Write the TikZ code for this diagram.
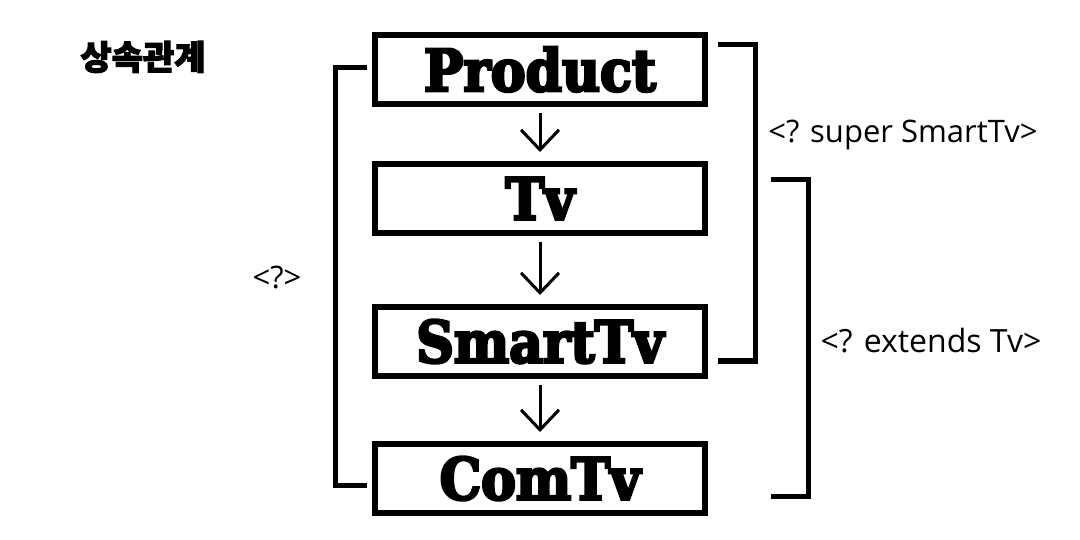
\documentclass[tikz,border=0pt]{standalone}
\usepackage{fontspec}
\usetikzlibrary{arrows.meta, positioning}
\setmainfont{Open Sans}
\newfontfamily\slabfont{DejaVu Serif Condensed}[FakeBold=4.5]
\newfontfamily\kofont{Noto Sans CJK KR}[FakeBold=3]

\begin{document}
\begin{tikzpicture}[x=1pt, y=-1pt, node distance=54pt,
		cls/.style={draw, line width=6pt, minimum width=330pt, minimum height=69pt,
		            inner sep=0pt, font=\slabfont\bfseries\fontsize{58}{58}\selectfont},
		arr/.style={-{Straight Barb[length=20pt, width=38pt]}, line width=3pt,
		            shorten <=6pt, shorten >=9pt},
		brk/.style={line width=5pt},
		lbl/.style={font=\fontsize{31}{31}\selectfont}]
		\useasboundingbox (0,0) rectangle (1080,540);
		\node[font=\kofont\bfseries\fontsize{34}{34}\selectfont] (title) at (143,57) {상속관계};
		\node[cls] (prod) at (540,69.5) {Product};
		\node[cls, below=54pt of prod] (tv) {Tv};
		\node[cls, below=68pt of tv] (smart) {SmartTv};
		\node[cls, below=62pt of smart] (com) {ComTv};
		\draw[arr] (prod) -- (tv);
		\draw[arr] (tv) -- (smart);
		\draw[arr] (smart) -- (com);
		% brackets
		\coordinate (l1) at (367,67.5);
		\coordinate (l2) at (367,485.5);
		\coordinate (r1) at (718,44.5);
		\coordinate (r2) at (718,361);
		\coordinate (e1) at (771,179.5);
		\coordinate (e2) at (771,496.5);
		\draw[brk] (l1) -- ++(-32,0) |- (l2);
		\draw[brk] (r1) -- ++(37.5,0) |- (r2);
		\draw[brk] (e1) -- ++(37.5,0) |- (e2);
		\node[lbl] (any) at (277,277) {<?>};
		\node[lbl] (sup) at (903,135) {<? super SmartTv>};
		\node[lbl, font=\fontsize{32}{32}\selectfont] (ext) at (931,341) {<? extends Tv>};
	\end{tikzpicture}
\end{document}
